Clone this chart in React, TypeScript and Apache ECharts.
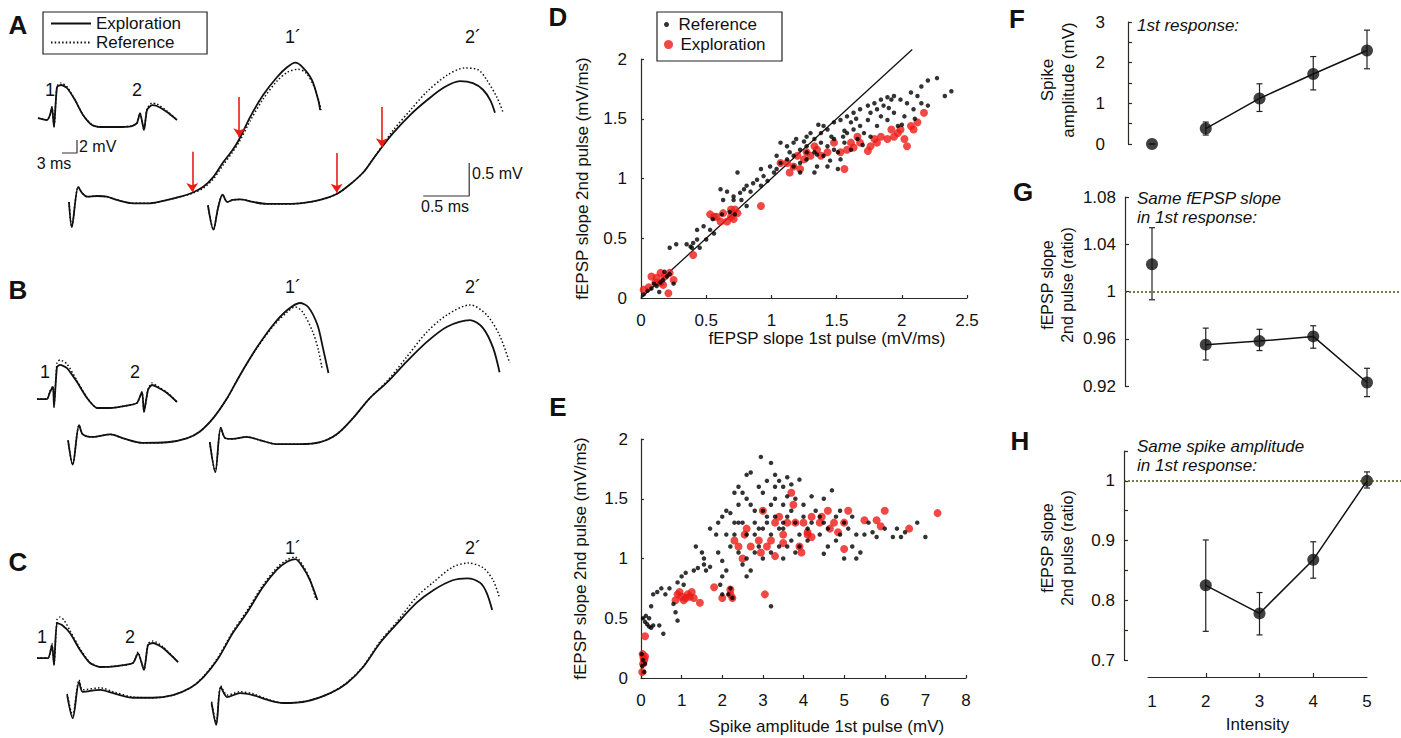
import { useEffect, useRef } from "react";
import * as echarts from "echarts";

const FONT = "'Liberation Sans', Arial, Helvetica, sans-serif";
const INK = "#111";
const RED = "#ec1c16";
const AXIS = "#2a2a22";

// ---------- Panels A-C : field potential traces (time ms, potential mV) ----------
const traceA1Exploration = [[0.75,-0.06],[0.78,-0.44],[0.85,0.17],[0.89,0.08],[0.95,0.02],[1.05,0.03],[1.16,0.02],[1.27,-0.03],[1.45,-0.08],[1.63,-0.08],[1.82,-0.03],[1.96,0.02],[2.09,0.08],[2.21,0.17],[2.32,0.32],[2.42,0.53],[2.53,0.73],[2.60,0.89],[2.72,1.23],[2.86,1.56],[3.01,1.83],[3.12,1.98],[3.21,2.05],[3.29,1.98],[3.39,1.79],[3.46,1.48],[3.48,1.33]];
const traceA1Reference = [[0.75,-0.06],[0.78,-0.44],[0.85,0.17],[0.89,0.08],[0.95,0.02],[1.05,0.03],[1.16,0.02],[1.27,-0.03],[1.45,-0.08],[1.63,-0.08],[1.82,-0.03],[1.96,0.02],[2.09,0.07],[2.21,0.15],[2.32,0.29],[2.42,0.49],[2.53,0.70],[2.60,0.85],[2.72,1.17],[2.86,1.50],[3.01,1.77],[3.13,1.91],[3.24,1.95],[3.33,1.89],[3.41,1.70],[3.47,1.45],[3.49,1.33]];
const traceA2Exploration = [[2.26,-0.11],[2.32,-0.48],[2.37,-0.15],[2.42,0.05],[2.47,-0.06],[2.53,-0.03],[2.61,-0.02],[2.75,-0.06],[2.90,-0.09],[3.04,-0.09],[3.26,-0.08],[3.48,-0.03],[3.66,0.06],[3.80,0.20],[3.95,0.39],[4.05,0.58],[4.15,0.77],[4.27,0.98],[4.46,1.26],[4.64,1.48],[4.82,1.67],[5.00,1.77],[5.14,1.74],[5.25,1.64],[5.33,1.48],[5.38,1.29]];
const traceA2Reference = [[2.26,-0.11],[2.32,-0.48],[2.37,-0.15],[2.42,0.05],[2.47,-0.06],[2.53,-0.03],[2.61,-0.02],[2.75,-0.06],[2.90,-0.09],[3.04,-0.09],[3.26,-0.08],[3.48,-0.03],[3.66,0.06],[3.80,0.20],[3.95,0.39],[4.05,0.58],[4.15,0.78],[4.27,1.02],[4.46,1.33],[4.64,1.61],[4.86,1.86],[5.05,1.97],[5.20,1.94],[5.29,1.79],[5.40,1.53],[5.47,1.29]];

const traceB1Exploration = [[0.74,-0.11],[0.79,-0.48],[0.86,0.12],[0.90,-0.02],[1.01,-0.06],[1.20,-0.02],[1.34,-0.08],[1.55,-0.15],[1.82,-0.14],[2.03,-0.08],[2.17,0.02],[2.32,0.23],[2.47,0.53],[2.61,0.88],[2.79,1.29],[2.97,1.64],[3.12,1.86],[3.26,1.97],[3.35,1.91],[3.45,1.64],[3.51,1.29],[3.57,0.91]];
const traceB1Reference = [[0.74,-0.11],[0.79,-0.48],[0.86,0.12],[0.90,-0.02],[1.01,-0.06],[1.20,-0.02],[1.34,-0.08],[1.55,-0.15],[1.82,-0.14],[2.03,-0.08],[2.17,0.02],[2.32,0.23],[2.47,0.53],[2.61,0.88],[2.79,1.28],[2.97,1.62],[3.12,1.83],[3.21,1.91],[3.29,1.83],[3.40,1.53],[3.46,1.26],[3.50,0.98]];
const traceB2Exploration = [[2.28,-0.14],[2.34,-0.59],[2.40,0.08],[2.45,-0.08],[2.53,-0.09],[2.68,-0.06],[2.83,-0.11],[3.01,-0.17],[3.26,-0.17],[3.48,-0.14],[3.66,-0.02],[3.84,0.23],[4.02,0.53],[4.21,0.77],[4.42,1.08],[4.64,1.38],[4.86,1.61],[5.11,1.71],[5.25,1.59],[5.36,1.29],[5.43,0.92]];
const traceB2Reference = [[2.28,-0.14],[2.34,-0.59],[2.40,0.08],[2.45,-0.08],[2.53,-0.09],[2.68,-0.06],[2.83,-0.11],[3.01,-0.17],[3.26,-0.17],[3.48,-0.14],[3.66,-0.02],[3.84,0.23],[4.02,0.53],[4.21,0.79],[4.42,1.15],[4.64,1.53],[4.86,1.79],[5.11,1.94],[5.29,1.79],[5.43,1.48],[5.54,1.06]];

const traceC1Exploration = [[0.73,-0.35],[0.79,-0.70],[0.86,-0.15],[0.90,-0.30],[1.09,-0.27],[1.23,-0.32],[1.45,-0.39],[1.66,-0.39],[1.88,-0.35],[2.07,-0.24],[2.21,-0.08],[2.36,0.18],[2.53,0.59],[2.68,0.89],[2.86,1.29],[3.01,1.55],[3.12,1.67],[3.21,1.71],[3.29,1.59],[3.37,1.39],[3.45,1.09]];
const traceC1Reference = [[0.73,-0.33],[0.79,-0.66],[0.86,-0.12],[0.90,-0.27],[1.09,-0.24],[1.23,-0.30],[1.45,-0.38],[1.66,-0.39],[1.88,-0.35],[2.07,-0.24],[2.21,-0.07],[2.36,0.20],[2.53,0.61],[2.68,0.92],[2.86,1.32],[3.01,1.58],[3.12,1.70],[3.21,1.74],[3.29,1.62],[3.37,1.40],[3.43,1.12]];
const traceC2Exploration = [[2.30,-0.47],[2.35,-0.80],[2.40,-0.23],[2.47,-0.38],[2.61,-0.32],[2.75,-0.35],[2.90,-0.42],[3.08,-0.47],[3.34,-0.44],[3.59,-0.32],[3.77,-0.17],[3.95,0.08],[4.13,0.44],[4.32,0.74],[4.53,1.05],[4.71,1.24],[4.92,1.39],[5.08,1.42],[5.22,1.35],[5.29,1.20],[5.35,0.94]];
const traceC2Reference = [[2.30,-0.45],[2.35,-0.77],[2.40,-0.21],[2.47,-0.35],[2.61,-0.30],[2.75,-0.33],[2.90,-0.41],[3.08,-0.47],[3.34,-0.44],[3.59,-0.32],[3.77,-0.16],[3.95,0.09],[4.13,0.46],[4.32,0.77],[4.53,1.14],[4.71,1.36],[4.92,1.59],[5.09,1.65],[5.25,1.58],[5.36,1.39],[5.43,1.12]];

// insets (slow time base: ms, mV)
const insetAExploration = [[1.6,1.38],[3.4,1.08],[4.0,1.85],[4.4,3.08],[4.8,0],[5.4,6.15],[6.2,6.46],[7.4,6.0],[9.0,4.15],[10.6,1.85],[12.4,0.31],[14.0,0],[17.4,0],[20.4,0.15],[21.4,0.62],[22.0,2.15],[22.8,-0.46],[23.4,2.62],[24.4,3.38],[25.4,3.23],[27.4,2.31],[29.4,1.08]];
const insetAReference = [[1.6,1.38],[3.4,1.08],[4.0,1.85],[4.4,3.08],[4.8,0],[5.4,6.3],[6.2,6.77],[7.4,6.2],[9.0,4.2],[10.6,1.85],[12.4,0.31],[14.0,0],[17.4,0],[20.4,0.15],[21.4,0.62],[22.0,2.15],[22.8,-0.46],[23.4,2.8],[24.4,3.69],[25.4,3.54],[27.4,2.46],[29.4,1.08]];
const insetBExploration = [[1.4,1.38],[3.4,1.38],[4.0,2.46],[4.6,3.23],[4.8,0.15],[5.4,6.31],[6.0,6.62],[7.4,6.15],[9.4,4.0],[11.4,1.54],[13.4,0],[16.0,0],[20.0,0.46],[21.4,0.77],[22.4,2.46],[22.8,-0.62],[23.6,2.77],[24.4,3.54],[25.4,3.23],[27.4,2.31],[29.4,0.92]];
const insetBReference = [[1.4,1.38],[3.4,1.38],[4.0,2.6],[4.6,3.4],[4.8,0.15],[5.4,7.0],[6.0,7.38],[7.4,6.77],[9.4,4.2],[11.4,1.6],[13.4,0],[16.0,0],[20.0,0.46],[21.4,0.77],[22.4,2.46],[22.8,-0.62],[23.6,2.9],[24.4,3.85],[25.4,3.4],[27.4,2.4],[29.4,0.92]];
const insetCExploration = [[1.4,1.38],[3.6,1.38],[4.4,3.38],[4.8,0.31],[5.4,6.77],[6.4,6.46],[8.0,5.23],[10.0,2.62],[12.0,0.62],[14.0,0],[17.4,0.15],[20.6,0.62],[21.6,2.15],[22.8,-0.46],[23.6,3.38],[24.6,3.69],[26.6,2.92],[29.6,0.77]];
const insetCReference = [[1.4,1.38],[3.6,1.38],[4.4,3.6],[4.8,0.31],[5.4,7.3],[6.0,7.69],[6.8,7.23],[8.0,5.6],[10.0,2.8],[12.0,0.7],[14.0,0],[17.4,0.15],[20.6,0.62],[21.6,2.3],[22.8,-0.46],[23.6,3.6],[24.6,4.0],[26.6,3.1],[29.6,0.77]];

// red arrows in A: [time, start mV, tip mV]
const arrowsA = [[2.09,0.70,0.09],[2.60,1.53,0.92],[3.66,0.68,0.08],[4.15,1.38,0.77]];
// scale bars: 0.5 ms / 0.5 mV, inset 3 ms / 2 mV
const scaleBarA = [[4.6,0.03],[5.1,0.03],[5.1,0.53]];
const insetScaleA = [[6.4,-4],[9.4,-4],[9.4,-2]];

// ---------- Panel D ----------
const dReference = [[0.02,0.03],[0.05,0.06],[0.08,0.08],[0.1,0.12],[0.12,0.1],[0.15,0.13],[0.17,0.15],[0.2,0.18],[0.22,0.2],[0.14,0.05],[0.18,0.22],[0.25,0.12],
[0.22,0.42],[0.27,0.45],[0.38,0.43],[0.40,0.46],[0.43,0.49],[0.45,0.42],[0.50,0.49],[0.43,0.57],[0.48,0.60],[0.53,0.57],[0.56,0.54],[0.35,0.45],[0.39,0.42],
[0.61,0.91],[0.66,0.89],[0.71,0.85],[0.74,1.05],[0.76,0.88],[0.79,0.91],[0.81,0.94],[0.84,0.89],[0.86,0.96],[0.89,0.99],[0.92,0.94],[0.94,1.02],[0.97,0.98],[0.71,0.82],[0.77,0.82],[0.81,0.77],[0.63,0.82],[0.92,1.08],[0.99,1.10],[1.04,1.19],[1.07,1.30],[1.02,1.05],[1.12,1.16],[1.17,1.19],[1.22,1.24],[1.27,1.27],[1.33,1.33],[1.38,1.38],[1.43,1.41],[1.48,1.47],[1.53,1.49],[1.58,1.52],[1.63,1.55],[1.68,1.58],[1.74,1.61],[1.79,1.63],[1.84,1.66],[1.89,1.68],[1.94,1.69],[1.99,1.66],[2.07,1.72],[2.15,1.77],[2.20,1.82],[2.27,1.84],[2.33,1.69],[2.38,1.73],
[1.17,1.10],[1.22,1.05],[1.27,1.16],[1.33,1.22],[1.35,1.10],[1.40,1.19],[1.43,1.27],[1.48,1.33],[1.51,1.22],[1.56,1.30],[1.58,1.38],[1.61,1.24],[1.66,1.33],[1.68,1.44],[1.71,1.38],[1.74,1.49],[1.76,1.35],[1.81,1.44],[1.84,1.52],[1.86,1.61],[1.89,1.49],[1.94,1.55],[1.97,1.44],[2.02,1.52],[2.09,1.58],[2.15,1.63],[2.20,1.61],[1.51,1.08],[1.38,1.30],[1.27,1.35],[1.17,1.30],[1.12,1.27],[1.19,1.33],[1.30,1.38],[1.40,1.44],[1.46,1.35],[1.56,1.40],[1.63,1.41],[1.76,1.55],[1.92,1.66],[1.33,1.05],[1.43,1.10],[1.53,1.16],[1.22,1.13],[1.04,1.08],[1.07,1.13],[1.14,1.22],[2.04,1.63],[2.12,1.69],[1.81,1.58],[1.61,1.47],[1.48,1.24],[1.27,1.22],
[0.55,0.66],[0.62,0.70],[0.68,0.72],[0.72,0.70],[1.36,1.45],[1.25,1.31],[1.45,1.15],[1.65,1.5],[1.7,1.28],[1.9,1.59],[2.0,1.45],[2.1,1.5],[1.55,1.35],[1.35,1.2]];
const dExploration = [[0.02,0.07],[0.08,0.18],[0.12,0.17],[0.15,0.13],[0.18,0.18],[0.22,0.21],[0.25,0.15],[0.21,0.04],[0.17,0.11],[0.11,0.13],[0.15,0.21],[0.06,0.09],
[0.40,0.36],
[0.53,0.70],[0.58,0.68],[0.63,0.71],[0.69,0.68],[0.71,0.66],[0.74,0.71],[0.66,0.64],[0.61,0.64],[0.56,0.68],[0.72,0.74],[0.92,0.77],[0.69,0.74],
[1.12,1.13],[1.17,1.10],[1.14,1.05],[1.20,1.19],[1.25,1.16],[1.30,1.19],[1.33,1.27],[1.35,1.24],[1.27,1.22],[1.07,1.13],[1.22,1.08],[1.38,1.19],
[1.43,1.22],[1.48,1.30],[1.53,1.22],[1.56,1.08],[1.58,1.24],[1.63,1.26],[1.68,1.30],[1.74,1.23],[1.79,1.33],[1.84,1.35],[1.89,1.33],[1.94,1.35],[1.99,1.41],[2.04,1.27],[2.07,1.44],[2.12,1.47],[2.17,1.55],[1.76,1.27],[1.81,1.30],[1.97,1.38],[2.02,1.33],[1.61,1.30],[1.66,1.35],[1.92,1.41],[2.09,1.41]];
const identityLine = [[0,0],[2.08,2.08]];

// ---------- Panel E ----------
const eReference = [[0.02,0.2],[0.03,0.1],[0.05,0.15],[0.08,0.05],[0.1,0.12],
[0.05,0.5],[0.1,0.47],[0.15,0.45],[0.2,0.43],[0.25,0.42],[0.3,0.44],[0.45,0.44],[0.55,0.37],[0.2,0.5],[0.12,0.52],
[0.25,0.6],[0.3,0.7],[0.4,0.72],[0.5,0.75],[0.6,0.7],[0.7,0.75],[0.8,0.62],[0.9,0.48],[0.85,0.55],[0.9,0.8],[1.0,0.85],[1.05,0.78],[1.1,0.88],[1.3,0.9],[1.35,1.1],[1.4,0.92],[1.55,0.95],[1.6,0.9],[1.7,0.93],[1.5,1.05],[1.55,1.0],[1.7,1.25],[1.85,1.2],[1.9,1.05],[2.0,0.98],[2.0,0.85],[2.1,0.9],[2.2,0.75],[2.15,0.7],[2.25,0.67],[2.0,0.7],[1.95,0.78],[3.2,0.6],
[1.9,1.3],[2.0,1.35],[2.1,1.4],[2.2,1.38],[2.3,1.3],[2.4,1.45],[2.3,1.55],[2.4,1.6],[2.5,1.55],[2.6,1.7],[2.7,1.72],[2.6,1.5],[2.7,1.45],[2.8,1.4],[2.9,1.6],[2.95,1.85],[3.0,1.55],[3.1,1.65],[3.2,1.8],[3.3,1.7],[3.4,1.65],[3.5,1.6],[3.5,1.45],[3.6,1.68],[3.7,1.62],[3.8,1.5],[3.9,1.66],[3.3,1.5],[3.2,1.45],[3.0,1.4],[2.8,1.3],[2.5,1.3],[2.3,1.2],[2.1,1.2],[2.2,1.1],[2.4,1.05],[2.5,0.95],[2.6,1.0],[2.7,0.9],[2.6,0.85],[2.8,1.2],[2.9,1.1],[3.0,1.25],[3.1,1.3],[3.2,1.2],[3.3,1.35],[3.4,1.25],[3.5,1.3],[3.6,1.35],[3.7,1.4],[3.8,1.3],[3.9,1.2],[4.0,1.35],[4.1,1.25],[4.2,1.3],[4.3,1.4],[4.4,1.2],[4.5,1.3],[4.6,1.25],[4.7,1.57],[4.8,1.35],[4.9,1.2],[5.0,1.3],[5.1,1.25],[5.2,1.35],[5.3,1.2],[5.4,1.05],[5.5,1.2],[5.6,1.3],[5.8,1.18],[6.0,1.25],[6.2,1.18],[6.4,1.18],[6.8,1.3],[7.0,1.18],[3.4,1.1],[3.5,1.0],[3.6,1.1],[3.7,1.15],[3.8,1.05],[3.2,1.05],[3.0,1.0],[2.8,1.05],[4.1,1.15],[4.5,1.04],[4.6,1.1],[4.8,1.15],[5.0,1.0],[5.3,1.0],[3.3,1.6],[3.6,1.52],[4.5,1.5],[4.0,1.45],[4.2,1.52],[3.1,1.35],[2.9,1.25],[2.6,1.2],[2.4,1.3],[3.5,1.25],[3.9,1.1],[4.4,1.35],[4.9,1.4],[5.2,1.1],[5.7,1.22],[6.5,1.22],[6.3,1.25]];
const eExploration = [[0.03,0.05],[0.05,0.12],[0.06,0.17],[0.1,0.18],[0.08,0.15],[0.04,0.2],[0.1,0.35],
[0.85,0.65],[0.9,0.7],[0.95,0.72],[1.0,0.68],[1.05,0.65],[1.1,0.67],[1.15,0.7],[1.2,0.68],[1.25,0.72],[1.3,0.67],[1.45,0.63],[1.8,0.76],[2.0,0.67],[2.2,0.7],[2.25,0.67],[2.2,0.74],[3.05,0.7],
[2.3,1.15],[2.4,1.1],[2.5,1.0],[2.55,1.2],[2.6,1.25],[2.7,1.1],[2.9,1.15],[2.95,1.05],[3.0,1.4],[3.1,1.1],[3.2,1.15],[3.3,1.02],[3.3,1.3],[3.4,1.35],[3.5,1.2],[3.5,1.13],[3.6,1.3],[3.7,1.55],[3.75,1.45],[3.8,1.3],[3.9,1.1],[3.95,1.05],[4.0,1.3],[4.1,1.2],[4.2,1.35],[4.1,1.22],[4.2,1.18],[4.4,1.3],[4.45,1.35],[4.6,1.4],[4.65,1.25],[4.75,1.3],[4.85,1.22],[5.0,1.3],[5.0,1.08],[5.1,1.4],[5.5,1.32],[5.8,1.32],[5.9,1.27],[6.0,1.4],[6.6,1.25],[7.3,1.38]];

// ---------- Panels F-H (intensity 1..5) ----------
const intensity = [1, 2, 3, 4, 5];
const spikeAmp = [0, 0.38, 1.12, 1.72, 2.3];
const spikeLow = [0, 0.22, 0.8, 1.33, 1.85];
const spikeHigh = [0, 0.54, 1.48, 2.15, 2.8];
const slopeRatioG = [1.023, 0.955, 0.958, 0.962, 0.923];
const slopeRatioGLow = [0.993, 0.942, 0.950, 0.952, 0.911];
const slopeRatioGHigh = [1.054, 0.969, 0.968, 0.971, 0.935];
const intensityH = [2, 3, 4, 5];
const slopeRatioH = [0.825, 0.778, 0.868, 1.0];
const slopeRatioHLow = [0.748, 0.742, 0.837, 0.988];
const slopeRatioHHigh = [0.901, 0.813, 0.898, 1.015];
const intensityLabels = ["1", "2", "3", "4", "5"];

function buildOption() {
  const hidden = (gi: number, min: number, max: number) => ({ gridIndex: gi, type: "value", min, max, show: false });
  const traceLine = (name: string, data: number[][], gi: number, dotted: boolean, extra: any = {}) => ({
    name, type: "line", xAxisIndex: gi, yAxisIndex: gi, data, symbol: "none", smooth: 0.3, silent: true,
    lineStyle: { color: INK, width: dotted ? 1.5 : 1.8, type: dotted ? [1.5, 2.2] : "solid" },
    itemStyle: { color: INK }, z: dotted ? 3 : 2, ...extra,
  });
  const bar = (data: number[][], gi: number) => ({
    name: "scale", type: "line", xAxisIndex: gi, yAxisIndex: gi, data, symbol: "none", silent: true,
    lineStyle: { color: "#3a3030", width: 1.2 },
  });
  const errorBars = (ai: number, xs: number[], lo: number[], hi: number[]) => ({
    type: "custom", xAxisIndex: ai, yAxisIndex: ai, silent: true, z: 2, clip: false,
    data: xs.map((x, i) => [x, lo[i], hi[i]]),
    renderItem: (_p: any, api: any) => {
      const x = api.value(0);
      const a = api.coord([x, api.value(1)]);
      const b = api.coord([x, api.value(2)]);
      const st = { stroke: "#222", lineWidth: 1.2 };
      return {
        type: "group",
        children: [
          { type: "line", shape: { x1: a[0], y1: a[1], x2: b[0], y2: b[1] }, style: st },
          { type: "line", shape: { x1: a[0] - 3, y1: a[1], x2: a[0] + 3, y2: a[1] }, style: st },
          { type: "line", shape: { x1: b[0] - 3, y1: b[1], x2: b[0] + 3, y2: b[1] }, style: st },
        ],
      };
    },
  });
  const dots = (ai: number, xs: number[], ys: number[]) => ({
    type: "scatter", xAxisIndex: ai, yAxisIndex: ai, silent: true, z: 4, symbolSize: 12, clip: false,
    itemStyle: { color: INK }, data: xs.map((x, i) => [x, ys[i]]),
  });
  const joinLine = (ai: number, xs: number[], ys: number[], extra: any = {}) => ({
    type: "line", xAxisIndex: ai, yAxisIndex: ai, silent: true, z: 3, symbol: "none",
    lineStyle: { color: INK, width: 1.5 }, data: xs.map((x, i) => [x, ys[i]]), ...extra,
  });
  const dottedOne = {
    silent: true, symbol: "none", label: { show: false },
    lineStyle: { type: [2, 2], color: "#4d4d1c", width: 1.5 }, data: [{ yAxis: 1 }],
  };
  const tickLabel = { fontSize: 17, color: INK, fontFamily: FONT };
  const axisLineStyle = { show: true, onZero: false, lineStyle: { color: AXIS, width: 1.2 } };
  const tick = { show: true, inside: true, length: 4, lineStyle: { color: AXIS, width: 1.2 } };

  const txt = (text: string, x: number, y: number, style: any = {}, extra: any = {}) => ({
    type: "text", x, y, silent: true, ...extra,
    style: { text, fill: INK, fontSize: 17, fontFamily: FONT, align: "center", verticalAlign: "middle", ...style },
  });
  const letter = (t: string, x: number, y: number) => txt(t, x, y, { fontSize: 26, fontWeight: "bold" });
  const rot = { rotation: Math.PI / 2 };

  const xMinF = 1 - 24 / 53.75, xMinG = 1 - 27 / 53.75, xMinH = 1 - 28 / 53.75, xMax = 1 + 249 / 53.75;
  const noSymbol = { color: "rgba(0,0,0,0)", opacity: 0, borderWidth: 0 };

  return {
    animation: false,
    backgroundColor: "#fff",
    textStyle: { fontFamily: FONT },
    grid: [
      { left: 0, top: 0, width: 552, height: 264 },
      { left: 0, top: 235, width: 552, height: 264 },
      { left: 0, top: 474, width: 552, height: 264 },
      { left: 30, top: 62, width: 160, height: 104 },
      { left: 30, top: 343, width: 160, height: 104 },
      { left: 30, top: 602, width: 160, height: 104 },
      { left: 641, top: 59, width: 326, height: 239 },
      { left: 641, top: 439, width: 325, height: 239 },
      { left: 1128, top: 22, width: 273, height: 122 },
      { left: 1125, top: 197, width: 276, height: 189 },
      { left: 1124, top: 451, width: 277, height: 209 },
      { left: 1148, top: 640, width: 219, height: 37 },
    ],
    xAxis: [
      hidden(0, 0, 6), hidden(1, 0, 6), hidden(2, 0, 6),
      hidden(3, 0, 32), hidden(4, 0, 32), hidden(5, 0, 32),
      {
        gridIndex: 6, type: "value", min: 0, max: 2.5, interval: 0.5,
        axisLine: axisLineStyle, axisTick: { ...tick, length: 3 }, splitLine: { show: false },
        axisLabel: { ...tickLabel, margin: 14 },
        name: "fEPSP slope 1st pulse (mV/ms)", nameLocation: "middle", nameGap: 30,
        nameTextStyle: { fontSize: 17, color: INK, fontFamily: FONT, padding: [0, 0, 0, 46] },
      },
      {
        gridIndex: 7, type: "value", min: 0, max: 8, interval: 1,
        axisLine: axisLineStyle, axisTick: { ...tick, length: 3 }, splitLine: { show: false },
        axisLabel: { ...tickLabel, margin: 14 },
        name: "Spike amplitude 1st pulse (mV)", nameLocation: "middle", nameGap: 40,
        nameTextStyle: { fontSize: 17, color: INK, fontFamily: FONT, padding: [0, 0, 0, 46] },
      },
      hidden(8, xMinF, xMax), hidden(9, xMinG, xMax), hidden(10, xMinH, xMax),
      {
        gridIndex: 11, type: "value", min: 1 - 4 / 53.75, max: 5,
        axisLine: axisLineStyle, splitLine: { show: false },
        axisTick: { ...tick, customValues: [2, 3, 4] },
        axisLabel: { ...tickLabel, margin: 16, customValues: intensity, formatter: (v: number) => intensityLabels[Math.round(v) - 1] ?? "" },
        name: "Intensity", nameLocation: "middle", nameGap: 39,
        nameTextStyle: { fontSize: 17, color: INK, fontFamily: FONT },
      },
    ],
    yAxis: [
      hidden(0, -1, 3), hidden(1, -1, 3), hidden(2, -1, 3),
      hidden(3, -6, 10), hidden(4, -6, 10), hidden(5, -6, 10),
      {
        gridIndex: 6, type: "value", min: 0, max: 2, interval: 0.5,
        axisLine: axisLineStyle, axisTick: { ...tick, length: 3 }, splitLine: { show: false },
        axisLabel: { ...tickLabel, margin: 14 },
        name: "fEPSP slope 2nd pulse (mV/ms)", nameLocation: "middle", nameGap: 50, nameRotate: 90,
        nameTextStyle: { fontSize: 17, color: INK, fontFamily: FONT },
      },
      {
        gridIndex: 7, type: "value", min: 0, max: 2, interval: 0.5,
        axisLine: axisLineStyle, axisTick: { ...tick, length: 3 }, splitLine: { show: false },
        axisLabel: { ...tickLabel, margin: 13 },
        name: "fEPSP slope 2nd pulse (mV/ms)", nameLocation: "middle", nameGap: 52, nameRotate: 90,
        nameTextStyle: { fontSize: 17, color: INK, fontFamily: FONT },
      },
      {
        gridIndex: 8, type: "value", min: 0, max: 3, interval: 0.5,
        axisLine: axisLineStyle, axisTick: tick, splitLine: { show: false },
        axisLabel: { ...tickLabel, margin: 23, formatter: (v: number) => (Math.abs(v - Math.round(v)) < 1e-6 ? String(Math.round(v)) : "") },
      },
      {
        gridIndex: 9, type: "value", min: 0.92, max: 1.08, interval: 0.04,
        axisLine: axisLineStyle, axisTick: tick, splitLine: { show: false },
        axisLabel: { ...tickLabel, margin: 9, formatter: (v: number) => String(Math.round(v * 100) / 100) },
      },
      {
        gridIndex: 10, type: "value", min: 0.7, max: 1.05, interval: 0.05,
        axisLine: axisLineStyle, axisTick: tick, splitLine: { show: false },
        axisLabel: { ...tickLabel, margin: 9, formatter: (v: number) => { const r = Math.round(v * 100); return r % 10 === 0 && r <= 100 ? String(r / 100) : ""; } },
      },
      hidden(11, 0, 1),
    ],
    legend: [
      {
        left: 43, top: 12, orient: "vertical", itemWidth: 40, itemHeight: 8, itemGap: 2,
        padding: [3, 26, 3, 7], borderColor: "#222", borderWidth: 1.2, selectedMode: false,
        textStyle: { fontSize: 17, color: INK, fontFamily: FONT },
        itemStyle: noSymbol,
        data: [
          { name: "Exploration", itemStyle: noSymbol },
          { name: "Reference", itemStyle: noSymbol },
        ],
      },
      {
        left: 657, top: 16, itemWidth: 14, itemHeight: 5, padding: [0, 0, 0, 7], selectedMode: false,
        textStyle: { fontSize: 17, color: INK, fontFamily: FONT },
        formatter: (n: string) => n.replace("D-", ""),
        data: [{ name: "D-Reference", icon: "circle" }],
      },
      {
        left: 657, top: 36, itemWidth: 14, itemHeight: 9, padding: [0, 0, 0, 7], selectedMode: false,
        textStyle: { fontSize: 17, color: INK, fontFamily: FONT },
        formatter: (n: string) => n.replace("D-", ""),
        data: [{ name: "D-Exploration", icon: "circle" }],
      },
    ],
    series: [
      traceLine("Exploration", traceA1Exploration, 0, false, {
        markLine: {
          silent: true, symbol: ["none", "arrow"], symbolSize: 9, label: { show: false },
          lineStyle: { color: RED, width: 1.6, type: "solid" },
          data: arrowsA.map(([t, a, b]) => [{ coord: [t, a] }, { coord: [t, b] }]),
        },
      }),
      traceLine("Reference", traceA1Reference, 0, true),
      traceLine("Exploration", traceA2Exploration, 0, false),
      traceLine("Reference", traceA2Reference, 0, true),
      bar(scaleBarA, 0),
      traceLine("Exploration", traceB1Exploration, 1, false),
      traceLine("Reference", traceB1Reference, 1, true),
      traceLine("Exploration", traceB2Exploration, 1, false),
      traceLine("Reference", traceB2Reference, 1, true),
      traceLine("Exploration", traceC1Exploration, 2, false),
      traceLine("Reference", traceC1Reference, 2, true),
      traceLine("Exploration", traceC2Exploration, 2, false),
      traceLine("Reference", traceC2Reference, 2, true),
      traceLine("Exploration", insetAExploration, 3, false, { smooth: 0.2 }),
      traceLine("Reference", insetAReference, 3, true, { smooth: 0.2 }),
      bar(insetScaleA, 3),
      traceLine("Exploration", insetBExploration, 4, false, { smooth: 0.2 }),
      traceLine("Reference", insetBReference, 4, true, { smooth: 0.2 }),
      traceLine("Exploration", insetCExploration, 5, false, { smooth: 0.2 }),
      traceLine("Reference", insetCReference, 5, true, { smooth: 0.2 }),
      // D
      {
        name: "identity", type: "line", xAxisIndex: 6, yAxisIndex: 6, data: identityLine, symbol: "none",
        clip: false, silent: true, lineStyle: { color: INK, width: 1.3 }, z: 1,
      },
      { name: "D-Reference", type: "scatter", xAxisIndex: 6, yAxisIndex: 6, data: dReference, symbol: "circle", symbolSize: 4.5, itemStyle: { color: "#000" }, z: 3, silent: true },
      { name: "D-Exploration", type: "scatter", xAxisIndex: 6, yAxisIndex: 6, data: dExploration, symbol: "circle", symbolSize: 8, itemStyle: { color: RED }, z: 2, silent: true },
      // E
      { name: "E-Reference", type: "scatter", xAxisIndex: 7, yAxisIndex: 7, data: eReference, symbol: "circle", symbolSize: 4.5, itemStyle: { color: "#000" }, z: 3, silent: true },
      { name: "E-Exploration", type: "scatter", xAxisIndex: 7, yAxisIndex: 7, data: eExploration, symbol: "circle", symbolSize: 8, itemStyle: { color: RED }, z: 2, silent: true },
      // F
      errorBars(8, intensity, spikeLow, spikeHigh),
      joinLine(8, intensity.slice(1), spikeAmp.slice(1)),
      dots(8, intensity, spikeAmp),
      // G
      errorBars(9, intensity, slopeRatioGLow, slopeRatioGHigh),
      joinLine(9, intensity.slice(1), slopeRatioG.slice(1), { markLine: dottedOne }),
      dots(9, intensity, slopeRatioG),
      // H
      errorBars(10, intensityH, slopeRatioHLow, slopeRatioHHigh),
      joinLine(10, intensityH, slopeRatioH, { markLine: dottedOne }),
      dots(10, intensityH, slopeRatioH),
    ],
    graphic: [
      letter("A", 18, 25), letter("B", 18, 290), letter("C", 18, 562),
      letter("D", 558, 17), letter("E", 558, 407), letter("F", 1017, 19), letter("G", 1023, 192), letter("H", 1020, 441),
      txt("1\u00b4", 293, 37, { fontSize: 18 }), txt("2\u00b4", 473, 37, { fontSize: 18 }),
      txt("1\u00b4", 293, 287, { fontSize: 18 }), txt("2\u00b4", 473, 287, { fontSize: 18 }),
      txt("1\u00b4", 293, 548, { fontSize: 18 }), txt("2\u00b4", 473, 548, { fontSize: 18 }),
      txt("1", 50, 90, { fontSize: 18 }), txt("2", 137, 90, { fontSize: 18 }),
      txt("1", 45, 372, { fontSize: 18 }), txt("2", 135, 372, { fontSize: 18 }),
      txt("1", 42, 637, { fontSize: 18 }), txt("2", 130, 637, { fontSize: 18 }),
      txt("2 mV", 79, 146, { align: "left", fontSize: 16 }),
      txt("3 ms", 54, 163, { fontSize: 16 }),
      txt("0.5 mV", 472, 173, { align: "left", fontSize: 16 }),
      txt("0.5 ms", 445, 206, { fontSize: 16 }),
      {
        type: "rect", silent: true, shape: { x: 657, y: 12, width: 125, height: 49 },
        style: { fill: "none", stroke: "#222", lineWidth: 1.2 },
      },
      txt("1st response:", 1137, 25, { align: "left", fontStyle: "italic" }),
      txt("Same fEPSP slope", 1137, 198, { align: "left", fontStyle: "italic" }),
      txt("in 1st response:", 1137, 217, { align: "left", fontStyle: "italic" }),
      txt("Same spike amplitude", 1137, 446, { align: "left", fontStyle: "italic" }),
      txt("in 1st response:", 1137, 465, { align: "left", fontStyle: "italic" }),
      txt("Spike", 1047, 80, {}, rot),
      txt("amplitude (mV)", 1068, 80, {}, rot),
      txt("fEPSP slope", 1047, 285, { fontSize: 16 }, rot),
      txt("2nd pulse (ratio)", 1067, 285, { fontSize: 16 }, rot),
      txt("fEPSP slope", 1047, 548, { fontSize: 16 }, rot),
      txt("2nd pulse (ratio)", 1067, 548, { fontSize: 16 }, rot),
    ],
  };
}

export default function App() {
  const ref = useRef<HTMLDivElement>(null);
  useEffect(() => {
    if (!ref.current) return;
    const chart = echarts.init(ref.current, undefined, { renderer: "svg" });
    chart.setOption(buildOption() as any);
    return () => chart.dispose();
  }, []);
  return (
    <div
      ref={ref}
      style={{ position: "fixed", left: 0, top: 0, width: 1401, height: 738, background: "#fff" }}
    />
  );
}
